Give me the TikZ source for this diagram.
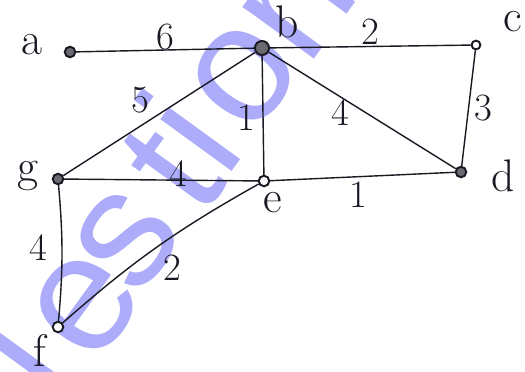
\documentclass[tikz,border=0pt]{standalone}
\usepackage{fontspec}
\newfontfamily\markfont{Liberation Sans}
\usepackage{xcolor}
\definecolor{inkblack}{RGB}{25, 25, 35}
\definecolor{markblue}{RGB}{172, 172, 250}

\begin{document}
\begin{tikzpicture}[x=0.02cm, y=-0.02cm,
  vertex/.style={circle, draw=inkblack, fill=inkblack!65, line width=1.1pt, inner sep=0pt, minimum size=6pt},
  edge/.style={inkblack, line width=0.8pt},
  vname/.style={inkblack, font=\fontsize{26}{28}\selectfont},
  weight/.style={inkblack, font=\fontsize{22}{24}\selectfont},
  markletter/.style={markblue, rotate=54, inner sep=0pt, text height=49pt, text depth=0pt,
    font=\markfont\fontsize{95}{95}\selectfont}]

  \useasboundingbox (0,0) rectangle (525,372);

  % watermark letters behind the graph
  \begin{scope}
    \clip (0,0) rectangle (525,372);
    \foreach \ch/\px/\py in {u/8/382, e/87/306, s/128/240, t/180/175, i/202/140, o/245/77, n/300/6}
      \node[markletter] (mark-\ch) at (\px,\py) {\ch};
  \end{scope}

  % vertices
  \node[vertex] (a) at (70,52) {};
  \node[vertex, minimum size=8pt] (b) at (262,48) {};
  \node[vertex, fill=white, minimum size=5pt] (c) at (476,45) {};
  \node[vertex] (d) at (461,172) {};
  \node[vertex, fill=white] (e) at (264,181) {};
  \node[vertex] (g) at (58,179) {};
  \node[vertex, fill=white] (f) at (58,327) {};

  % vertex names
  \node[vname] (na) at (32,45) {a};
  \node[vname] (nb) at (287,22) {b};
  \node[vname] (nc) at (513,22) {c};
  \node[vname] (nd) at (503,176) {d};
  \node[vname] (ne) at (273,203) {e};
  \node[vname] (nf) at (40,350) {f};
  \node[vname] (ng) at (28,176) {g};

  % edges
  \draw[edge] (a) -- (b);
  \draw[edge] (b) -- (c);
  \draw[edge] (c) -- (d);
  \draw[edge] (b) -- (d);
  \draw[edge] (b) -- (e);
  \draw[edge] (b) -- (g);
  \draw[edge] (g) -- (e);
  \draw[edge] (e) -- (d);
  \draw[edge] (g) to[bend left=5] (f);
  \draw[edge] (f) to[bend left=6] (e);

  % weights
  \node[weight] (wab) at (165,37) {6};
  \node[weight] (wbc) at (370,32) {2};
  \node[weight] (wbg) at (140,100) {5};
  \node[weight] (wbe) at (246,118) {1};
  \node[weight] (wbd) at (340,113) {4};
  \node[weight] (wcd) at (483,108) {3};
  \node[weight] (wge) at (178,174) {4};
  \node[weight] (wed) at (358,195) {1};
  \node[weight] (wgf) at (38,248) {4};
  \node[weight] (wfe) at (172,268) {2};

\end{tikzpicture}
\end{document}
